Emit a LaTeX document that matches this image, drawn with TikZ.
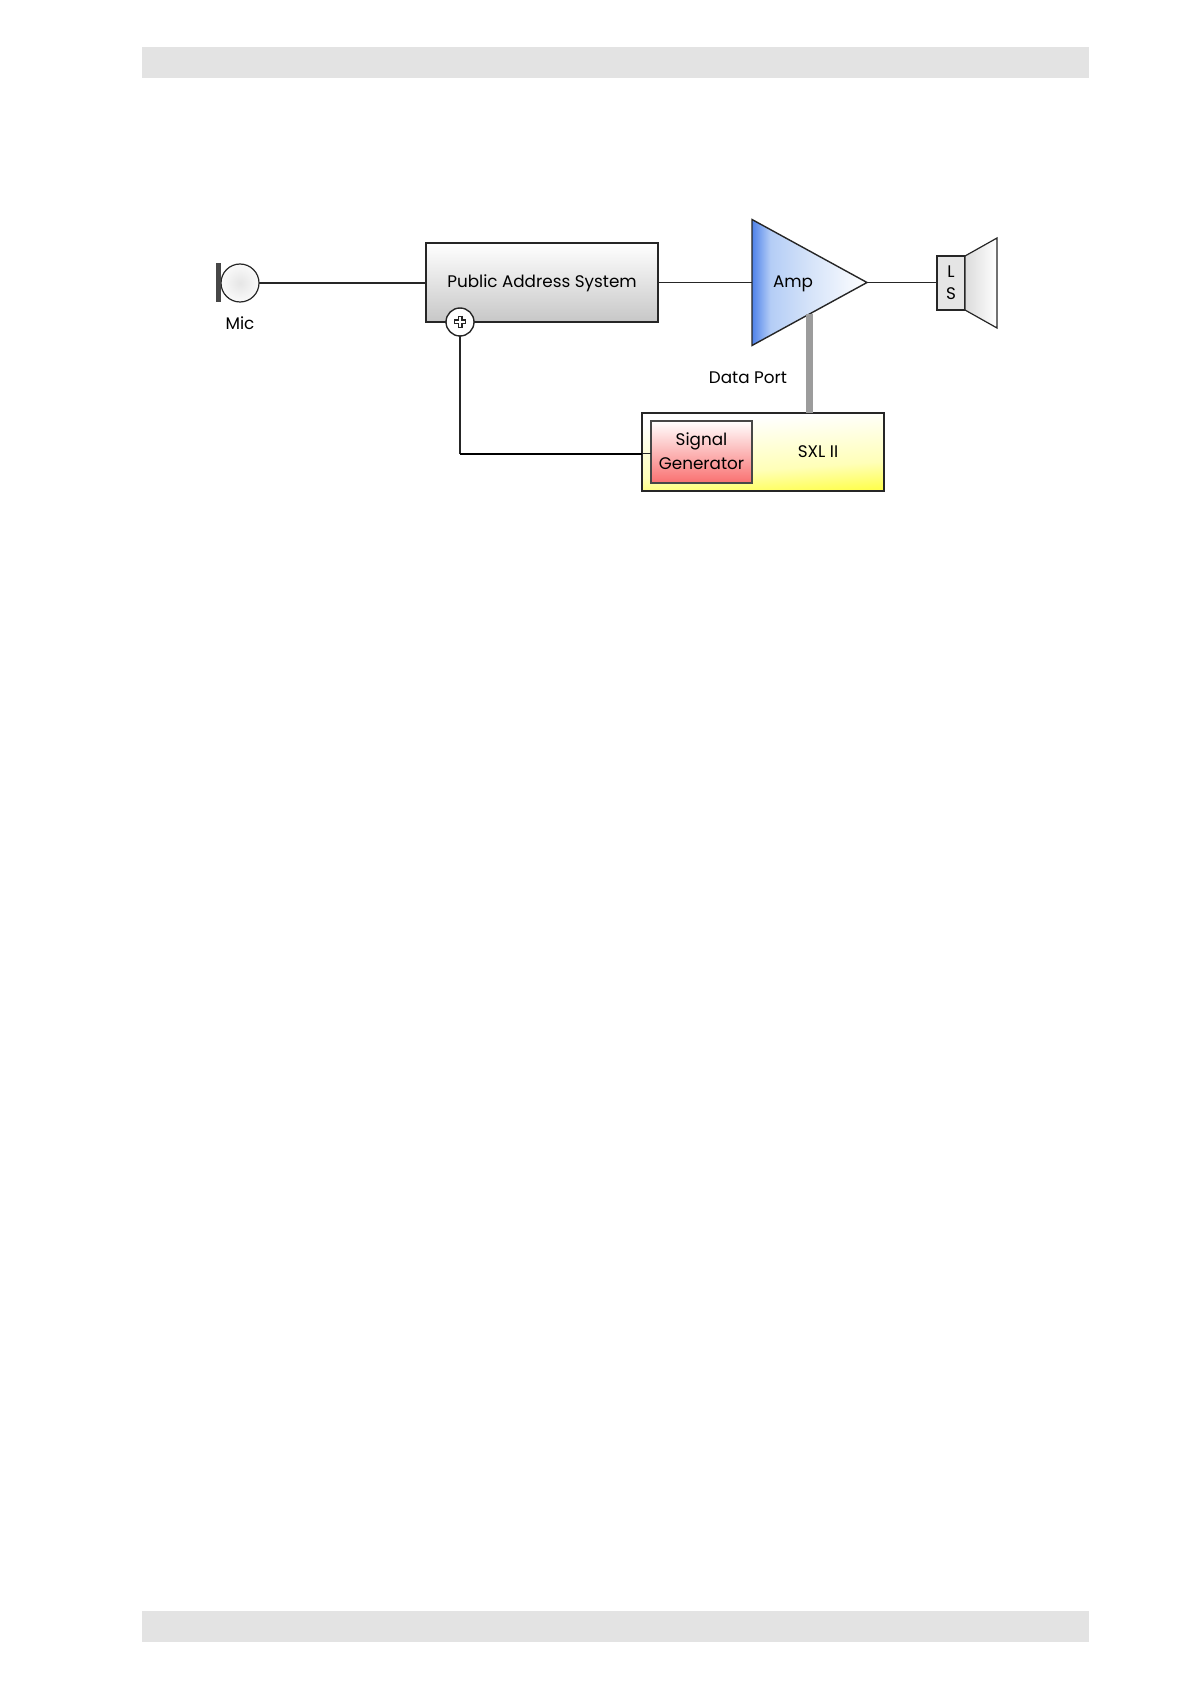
\documentclass[tikz,border=0pt]{standalone}
\usepackage{fontspec}
\setmainfont{Poppins}
\usetikzlibrary{positioning,shapes.geometric}
\definecolor{barGrey}{HTML}{E3E3E3}
\definecolor{lineDark}{HTML}{262626}
\definecolor{portGrey}{HTML}{9C9C9C}
\definecolor{ampBlue}{HTML}{4F82EA}
\definecolor{ampLight}{HTML}{B4CDF6}
\definecolor{ampMid}{HTML}{D5E3F9}
\definecolor{sigRed}{HTML}{F97070}
\definecolor{sxlYellow}{HTML}{FFFF50}
\definecolor{sxlPale}{HTML}{FFFFB8}
\pgfdeclarehorizontalshading{ampshade}{100bp}{color(0bp)=(ampBlue); color(25bp)=(ampBlue); color(33bp)=(ampLight); color(50bp)=(ampMid); color(75bp)=(white); color(100bp)=(white)}
\pgfdeclareverticalshading{sxlshade}{100bp}{color(0bp)=(sxlYellow); color(25bp)=(sxlYellow); color(40bp)=(sxlPale); color(70bp)=(white); color(100bp)=(white)}
\tikzset{
  wire/.style={draw=lineDark,line width=.55pt},
  label/.style={font=\fontsize{8.4pt}{11.2pt}\selectfont,text=black,inner sep=0pt,align=center},
  greybar/.style={fill=barGrey,minimum width=473.5pt,minimum height=15.5pt,inner sep=0pt,outer sep=0pt},
  blockbox/.style={draw=lineDark,line width=.7pt,inner sep=0pt,outer sep=0pt,label}
}
\begin{document}
\begin{tikzpicture}[x=.5pt,y=-.5pt]
  \useasboundingbox (0,0) rectangle (1191,1684);
  \node[greybar] (topbar) at (615.5,62.5) {};
  \node[greybar] (bottombar) at (615.5,1626.5) {};
  \node[draw=lineDark,line width=.6pt,circle,inner color=black!10,outer color=black!2,minimum size=19pt,inner sep=0pt,outer sep=0pt] (mic) at (240,283) {};
  \node[left=0pt of mic,fill=lineDark!85,minimum width=2.4pt,minimum height=19.5pt,inner sep=0pt,outer sep=0pt] (plate) {};
  \node[below=7pt of mic,label] (miclabel) {Mic};
  \node[blockbox,top color=white,bottom color=black!22,minimum width=116pt,minimum height=39.5pt,text depth=1pt] (pas) at (542,282.5) {Public Address System};
  \node[draw=lineDark,line width=.7pt,fill=white,circle,minimum size=14pt,inner sep=0pt,outer sep=0pt] (sum) at (460,322) {};
  \draw[lineDark,line width=2.5pt] (454,322) -- (466,322) (460,316) -- (460,328);
  \draw[white,line width=1.3pt] (455,322) -- (465,322) (460,317) -- (460,327);
  \node[draw=lineDark,line width=.7pt,isosceles triangle,isosceles triangle stretches,minimum width=63pt,minimum height=57.5pt,inner sep=0pt,outer sep=0pt,shading=ampshade,anchor=lower side] (amp) at (752,282.5) {};
  \node[label] (amplabel) at (793,284) {Amp};
  \node[blockbox,shading=sxlshade,shading angle=4,minimum width=121pt,minimum height=39pt] (sxl) at (763,452) {};
  \node[label] (sxllabel) at (818,452) {SXL II};
  \node[blockbox,draw=lineDark!85,top color=white,bottom color=sigRed,minimum width=50.5pt,minimum height=31pt,text depth=1pt] (sg) at (701.5,452) {Signal\\[.5pt]Generator};
  \node[blockbox,fill=black!10,minimum width=14pt,minimum height=27pt] (ls) at (951,283) {L\\S};
  \coordinate (conetop) at (997,238);
  \coordinate (conebottom) at (997,328);
  \shadedraw[draw=lineDark,line width=.6pt,left color=black!14,right color=white] (ls.north east) -- (conetop) -- (conebottom) -- (ls.south east) -- cycle;
  \draw[wire] (mic.east) -- (mic.east -| pas.west);
  \draw[wire] (pas.east |- amp.lower side) -- (amp.lower side);
  \draw[wire] (amp.apex) -- (amp.apex -| ls.west);
  \draw[wire] (sum.south) |- ([yshift=-.8pt]sg.west);
  \draw[draw=black,line width=.9pt] ([yshift=-.8pt]sum.south |- sxl.west) -- ([yshift=-.8pt]sxl.west);
  \draw[portGrey,line width=3.8pt] (amp.right side) -- (amp.right side |- sxl.north);
  \node[label] (portlabel) at (748,378) {Data Port};
\end{tikzpicture}
\end{document}
